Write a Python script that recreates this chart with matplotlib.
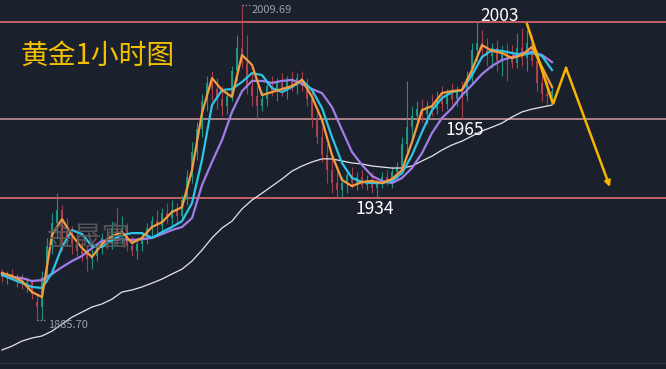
import numpy as np
import matplotlib.pyplot as plt

plt.rcParams['font.family'] = ['Noto Sans CJK SC', 'DejaVu Sans']

# hourly candles (one bar = one hour)
opens = [1904, 1903, 1904, 1902, 1903, 1900, 1901, 1893, 1891, 1903,
         1915, 1924, 1929, 1921, 1918, 1916, 1913, 1912, 1910, 1911,
         1915, 1918, 1916, 1922, 1920, 1922, 1915, 1913, 1916, 1918,
         1922, 1925, 1923, 1928, 1926, 1929, 1927, 1933, 1942, 1952,
         1961, 1972, 1979, 1977, 1973, 1970, 1974, 1984, 1993, 1987,
         1978, 1974, 1970, 1973, 1978, 1976, 1979, 1977, 1980, 1978,
         1981, 1978, 1973, 1965, 1958, 1951, 1945, 1940, 1937, 1940,
         1943, 1940, 1942, 1939, 1941, 1938, 1940, 1942, 1940, 1944,
         1946, 1955, 1962, 1966, 1969, 1967, 1970, 1969, 1973, 1971,
         1975, 1973, 1976, 1974, 1981, 1992, 1995, 1992, 1990, 1993,
         1988, 1991, 1989, 1987, 1993, 1989, 1995, 1988, 1979, 1975, 1974]
closes = [1903, 1904, 1902, 1903, 1900, 1901, 1896, 1891, 1903, 1915,
          1924, 1929, 1921, 1918, 1916, 1913, 1912, 1910, 1911, 1915,
          1918, 1916, 1922, 1920, 1922, 1915, 1913, 1916, 1918, 1922,
          1925, 1923, 1928, 1926, 1929, 1927, 1933, 1942, 1952, 1961,
          1972, 1979, 1977, 1973, 1970, 1974, 1984, 1993, 1987, 1978,
          1974, 1970, 1973, 1978, 1976, 1979, 1977, 1980, 1978, 1981,
          1978, 1973, 1965, 1958, 1951, 1945, 1940, 1937, 1940, 1943,
          1940, 1942, 1939, 1941, 1938, 1940, 1942, 1940, 1944, 1946,
          1955, 1962, 1966, 1969, 1967, 1970, 1969, 1973, 1971, 1975,
          1973, 1976, 1974, 1981, 1992, 1995, 1992, 1990, 1993, 1988,
          1991, 1989, 1987, 1993, 1989, 1995, 1988, 1979, 1975, 1974, 1976]
highs = [1906, 1905, 1906, 1904, 1904, 1903, 1902, 1896, 1905, 1918,
         1928, 1936, 1931, 1926, 1923, 1920, 1917, 1915, 1914, 1916,
         1920, 1922, 1925, 1930, 1927, 1924, 1919, 1918, 1920, 1924,
         1927, 1929, 1930, 1932, 1933, 1932, 1935, 1945, 1956, 1964,
         1975, 1982, 1984, 1981, 1978, 1976, 1986, 1998, 2009.69, 1998,
         1983, 1978, 1976, 1980, 1982, 1981, 1983, 1982, 1984, 1983,
         1984, 1981, 1976, 1968, 1962, 1955, 1950, 1944, 1942, 1945,
         1946, 1944, 1945, 1943, 1944, 1941, 1944, 1945, 1946, 1948,
         1958, 1980, 1970, 1972, 1973, 1972, 1975, 1976, 1978, 1977,
         1979, 1978, 1980, 1984, 1995, 2003, 2000, 1997, 1995, 1996,
         1994, 1995, 1994, 1999, 2001, 2000, 1998, 1992, 1985, 1980, 1978]
lows = [1901, 1900, 1902, 1899, 1898, 1897, 1894, 1885.7, 1886, 1901,
        1912, 1918, 1913, 1915, 1912, 1911, 1909, 1905, 1906, 1909,
        1912, 1914, 1914, 1915, 1916, 1913, 1911, 1910, 1913, 1916,
        1919, 1920, 1921, 1924, 1923, 1924, 1925, 1931, 1940, 1949,
        1958, 1968, 1972, 1969, 1966, 1967, 1972, 1980, 1985, 1975,
        1970, 1965, 1968, 1970, 1974, 1972, 1974, 1973, 1976, 1975,
        1976, 1970, 1962, 1955, 1948, 1940, 1936, 1934, 1934.5, 1936,
        1938, 1937, 1938, 1937, 1936, 1934, 1938, 1939, 1938, 1941,
        1944, 1952, 1957, 1963, 1964, 1963, 1966, 1967, 1968, 1969,
        1971, 1970, 1965, 1972, 1979, 1988, 1989, 1986, 1985, 1984,
        1982, 1980, 1985, 1985, 1986, 1984, 1986, 1976, 1972, 1970, 1971]

# moving averages, read every second bar
ma_fast = [1904.4, 1903.2, 1901.2, 1896.9, 1894.9, 1919.3, 1925.6, 1919.3,
           1914.2, 1910.7, 1915.8, 1918.9, 1920.5, 1916.2, 1918.2, 1922.5,
           1924.4, 1928.4, 1930.3, 1944.9, 1967.4, 1981.1, 1976.4, 1973.7,
           1990.2, 1986.3, 1974.4, 1975.6, 1976.8, 1978.0, 1980.4, 1973.7,
           1964.6, 1950.8, 1941.0, 1938.6, 1940.2, 1940.6, 1939.8, 1941.4,
           1944.9, 1955.9, 1968.5, 1970.1, 1975.2, 1976.0, 1976.4, 1984.3,
           1994.1, 1991.8, 1991.0, 1989.0, 1990.2, 1993.4, 1985.5, 1977.6]
ma_mid = [1903.6, 1902.0, 1900.4, 1898.9, 1898.5, 1904.4, 1914.6, 1921.3,
          1919.7, 1915.0, 1914.6, 1917.4, 1919.3, 1920.1, 1920.1, 1918.2,
          1920.5, 1922.5, 1924.8, 1931.9, 1948.9, 1970.5, 1976.4, 1976.8,
          1979.6, 1983.1, 1982.3, 1977.2, 1975.6, 1977.6, 1980.4, 1976.4,
          1969.3, 1957.9, 1947.7, 1941.8, 1940.2, 1939.8, 1939.8, 1940.6,
          1943.7, 1950.8, 1959.9, 1968.5, 1973.3, 1975.6, 1976.4, 1982.3,
          1989.4, 1992.2, 1991.8, 1991.0, 1990.2, 1991.0, 1989.8, 1984.3]
ma_slow = [1904.4, 1902.8, 1902.4, 1901.2, 1901.6, 1904.0, 1906.7, 1909.1,
           1911.1, 1914.2, 1917.0, 1917.4, 1917.7, 1917.4, 1917.7, 1918.2,
           1919.7, 1921.3, 1922.5, 1926.0, 1939.0, 1948.1, 1956.7, 1967.8,
           1976.0, 1980.0, 1980.0, 1979.2, 1980.0, 1980.4, 1978.8, 1976.8,
           1975.2, 1969.7, 1960.7, 1952.0, 1946.9, 1942.6, 1940.6, 1939.8,
           1941.8, 1945.7, 1951.6, 1959.5, 1965.4, 1969.3, 1974.4, 1978.4,
           1982.7, 1985.9, 1988.2, 1989.4, 1991.0, 1991.4, 1990.2, 1987.4]
ma_long = [1874.1, 1875.6, 1877.6, 1878.8, 1879.6, 1881.5, 1884.3, 1887.0,
           1889.0, 1891.0, 1892.2, 1894.1, 1896.9, 1897.7, 1898.9, 1900.4,
           1902.0, 1904.0, 1905.9, 1909.1, 1913.4, 1918.2, 1922.1, 1924.8,
           1929.6, 1933.1, 1935.8, 1938.6, 1941.4, 1944.5, 1946.5, 1948.1,
           1949.3, 1949.3, 1948.5, 1947.7, 1947.3, 1946.5, 1946.1, 1945.7,
           1945.7, 1946.5, 1948.5, 1950.4, 1952.8, 1954.8, 1956.3, 1958.3,
           1960.3, 1961.8, 1963.4, 1965.8, 1967.8, 1968.9, 1969.7, 1970.5]

levels = [2003, 1965, 1934]
level_labels = ['2003', '1965', '1934']
high_mark = 2009.69
low_mark = 1885.70

# forecast path drawn by hand: bar, price
path_bars = [105, 110.2, 112.8, 121.6]
path_prices = [2002.4, 1970.9, 1985.1, 1938.2]

bg = '#1b202d'
up_col = '#1f9e8a'
down_col = '#b5424f'

fig = plt.figure(figsize=(6.66, 3.69), dpi=100, facecolor=bg)
ax = fig.add_axes([0, 0, 1, 1], facecolor=bg)

o = np.array(opens)
c = np.array(closes)
h = np.array(highs)
l = np.array(lows)
xs = np.arange(len(o))
cols = np.where(c >= o, up_col, down_col)

# level lines
ax.axhline(levels[0], color='#e06a6c', lw=1.2, zorder=1)
ax.axhline(levels[1], color='#d49a9e', lw=1.1, zorder=1)
ax.axhline(levels[2], color='#e06a6c', lw=1.2, zorder=1)

# candles
ax.vlines(xs, l, h, colors=cols, lw=0.8, alpha=0.9, zorder=2)
ax.bar(xs, np.maximum(np.abs(c - o), 0.4), bottom=np.minimum(o, c),
       width=0.4, color=cols, alpha=0.9, zorder=2)

# moving averages
mx = np.arange(0, len(o), 2)
ax.plot(mx, ma_long, color='#e6e6e6', lw=0.9, zorder=3)
ax.plot(mx, ma_slow, color='#a07ee8', lw=1.6, zorder=4)
ax.plot(mx, ma_mid, color='#2ec4e4', lw=1.6, zorder=4)
ax.plot(mx, ma_fast, color='#f59c3c', lw=1.6, zorder=5)

# forecast arrow
ax.plot(path_bars[:3], path_prices[:3], color='#f7b500', lw=1.8,
        solid_joinstyle='miter', zorder=6)
ax.annotate('', xy=(path_bars[3], path_prices[3]),
            xytext=(path_bars[2], path_prices[2]),
            arrowprops=dict(arrowstyle='-|>', color='#f7b500', lw=1.8,
                            mutation_scale=8, shrinkA=0, shrinkB=0),
            zorder=6)

# extreme markers
hi_bar = int(np.argmax(h))
lo_bar = int(np.argmin(l))
ax.plot([hi_bar, hi_bar + 1.8], [high_mark, high_mark], ls=':', color='#9aa0a8', lw=0.9)
ax.text(hi_bar + 2.0, high_mark - 1.8, f'{high_mark:.2f}', color='#9aa0a8',
        fontsize=8, va='center', ha='left')
ax.plot([lo_bar, lo_bar + 2.0], [low_mark, low_mark], ls=':', color='#9aa0a8', lw=0.9)
ax.text(lo_bar + 2.2, low_mark - 1.6, f'{low_mark:.2f}', color='#9aa0a8',
        fontsize=8, va='center', ha='left')

# level labels
ax.text(99.5, levels[0] + 2.6, level_labels[0], color='white', fontsize=12.5,
        ha='center', va='center')
ax.text(92.5, levels[1] - 4.3, level_labels[1], color='white', fontsize=12.5,
        ha='center', va='center')
ax.text(74.6, levels[2] - 4.6, level_labels[2], color='white', fontsize=12.5,
        ha='center', va='center')

# title and watermark
ax.text(0.146, 0.848, '黄金1小时图', transform=ax.transAxes, color='#f2c000',
        fontsize=20, ha='center', va='center')
ax.text(0.132, 0.355, '金晟富', transform=ax.transAxes, color='#5a5a5a',
        fontsize=20, ha='center', va='center', alpha=0.9, zorder=7)

# bottom frame line
ax.plot([0, 1], [1 - 363 / 369, 1 - 363 / 369], transform=ax.transAxes,
        color='#2b3342', lw=1)

ax.set_xlim(-0.4, 132.8)
ax.set_ylim(1866.6, 2011.85)
ax.axis('off')

fig.savefig('out.png', dpi=100, facecolor=bg)
